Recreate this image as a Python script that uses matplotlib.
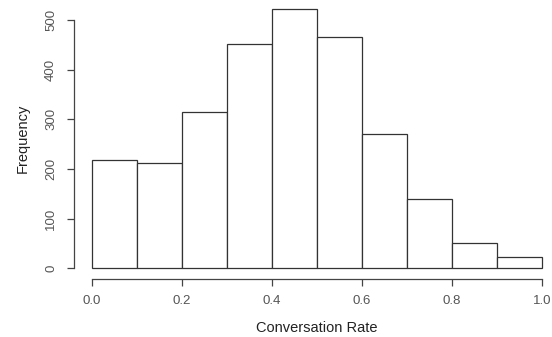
import matplotlib.pyplot as plt

# histogram of conversion rates, bins of width 0.1
bin_edges = [0.0, 0.1, 0.2, 0.3, 0.4, 0.5, 0.6, 0.7, 0.8, 0.9, 1.0]
counts = [218, 212, 315, 452, 522, 465, 270, 140, 50, 22]
xticks = [0.0, 0.2, 0.4, 0.6, 0.8, 1.0]
yticks = [0, 100, 200, 300, 400, 500]

plt.rcParams['font.family'] = ['Liberation Sans', 'DejaVu Sans']

W, H = 552, 337
fig = plt.figure(figsize=(W / 100, H / 100), dpi=100)

# R style plot region: range extended by 4% on each side
x0, x1 = 91.7, 542.3    # pixel x of 0.0 and 1.0
y0, y500 = 268.3, 20.0  # pixel y of 0 and 500
xlo, xhi = -0.04, 1.04
ylo, yhi = -0.04 * 522, 1.04 * 522
px_x = (x1 - x0)
px_y = (y0 - y500) / 500
left = x0 + xlo * px_x
right = x0 + xhi * px_x
bottom = y0 - ylo * px_y
top = y0 - yhi * px_y
ax = fig.add_axes([left / W, 1 - bottom / H, (right - left) / W, (bottom - top) / H])

widths = [bin_edges[i + 1] - bin_edges[i] for i in range(len(counts))]
ax.bar(bin_edges[:-1], counts, width=widths, align='edge',
       facecolor='white', edgecolor='#333333', linewidth=0.9)

ax.set_xlim(xlo, xhi)
ax.set_ylim(ylo, yhi)

for s in ['top', 'right']:
    ax.spines[s].set_visible(False)
ax.spines['left'].set_bounds(0, 500)
ax.spines['bottom'].set_bounds(0, 1)
for s in ['left', 'bottom']:
    ax.spines[s].set_color('#444444')
    ax.spines[s].set_linewidth(0.9)

ax.set_xticks(xticks)
ax.set_xticklabels([f'{v:.1f}' for v in xticks])
ax.set_yticks(yticks)
ax.set_yticklabels([str(v) for v in yticks], rotation=90, va='center')
ax.tick_params(direction='out', length=5, width=0.9, color='#444444',
               labelsize=9.5, labelcolor='#555555', pad=7)

ax.set_xlabel('Conversation Rate', fontsize=10.5, color='#222222', labelpad=10)
ax.set_ylabel('Frequency', fontsize=10.5, color='#222222', labelpad=11)

fig.savefig('out.png', dpi=100)
